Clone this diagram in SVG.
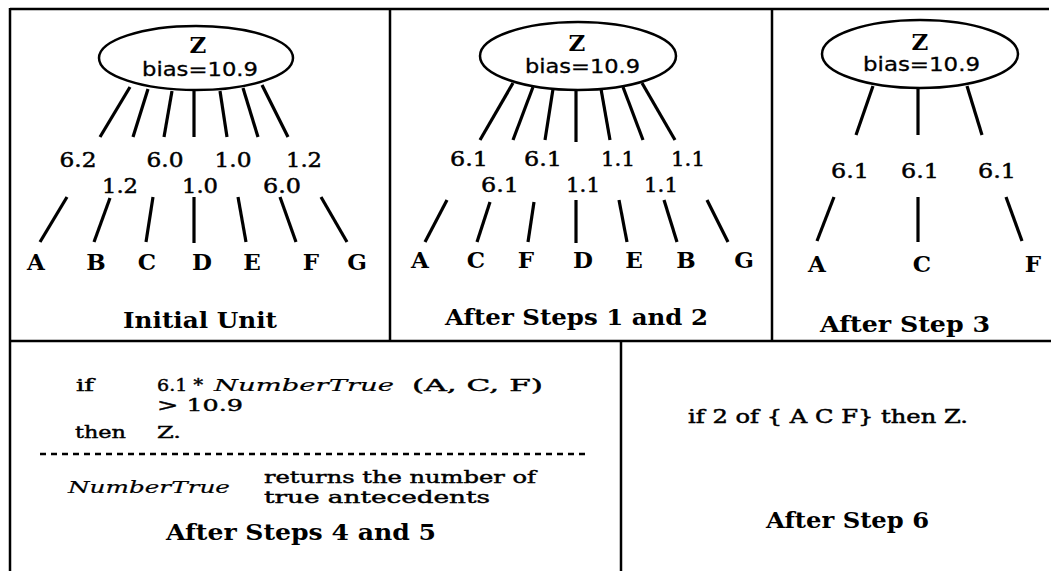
<svg xmlns="http://www.w3.org/2000/svg" width="1051" height="571" viewBox="0 0 1051 571">
<style>
.frame{stroke:#000;stroke-width:2.5;fill:none}
.edge{stroke:#000;stroke-width:3.2;fill:none}
.ell{stroke:#000;stroke-width:2.5;fill:#fff}
.z{font-family:"DejaVu Serif","Liberation Serif",serif;font-weight:bold;font-size:23px;text-anchor:middle}
.bias{font-family:"DejaVu Sans","Liberation Sans",sans-serif;font-size:19px;stroke:#000;stroke-width:0.3}
.w{font-family:"DejaVu Serif","Liberation Serif",serif;font-size:21px;text-anchor:middle;stroke:#000;stroke-width:0.5}
.in{font-family:"DejaVu Serif","Liberation Serif",serif;font-weight:bold;font-size:23px;text-anchor:middle}
.title{font-family:"DejaVu Serif","Liberation Serif",serif;font-weight:bold;font-size:22px}
.rule{font-family:"DejaVu Serif","Liberation Serif",serif;font-size:17.5px;stroke:#000;stroke-width:0.45}
.it{font-family:"DejaVu Serif","Liberation Serif",serif;font-style:italic;font-size:17.5px;stroke:#000;stroke-width:0.2}
.big{font-family:"DejaVu Serif","Liberation Serif",serif;font-size:19px;stroke:#000;stroke-width:0.5}
.dots{stroke:#000;stroke-width:2.5;stroke-dasharray:6 5;fill:none}
</style>
<g id="frames">
<line class="frame" x1="10" y1="9" x2="1049" y2="9"/>
<line class="frame" x1="10" y1="8" x2="10" y2="571"/>
<line class="frame" x1="390" y1="9" x2="390" y2="341"/>
<line class="frame" x1="772" y1="9" x2="772" y2="341"/>
<line class="frame" x1="10" y1="341" x2="1051" y2="341"/>
<line class="frame" x1="621" y1="341" x2="621" y2="571"/>
</g>
<g id="connectors">
<g id="edges-initial">
<line class="edge" x1="130" y1="87" x2="100" y2="137"/>
<line class="edge" x1="148" y1="89" x2="133" y2="137"/>
<line class="edge" x1="172" y1="91" x2="164" y2="137"/>
<line class="edge" x1="194" y1="91" x2="194" y2="137"/>
<line class="edge" x1="220" y1="91" x2="227" y2="137"/>
<line class="edge" x1="243" y1="88" x2="258" y2="137"/>
<line class="edge" x1="262" y1="85" x2="288" y2="137"/>
<line class="edge" x1="67" y1="197" x2="40" y2="242"/>
<line class="edge" x1="110" y1="198" x2="94" y2="242"/>
<line class="edge" x1="153" y1="197" x2="146" y2="242"/>
<line class="edge" x1="194" y1="197" x2="194" y2="243"/>
<line class="edge" x1="238" y1="197" x2="246" y2="242"/>
<line class="edge" x1="280" y1="197" x2="296" y2="242"/>
<line class="edge" x1="321" y1="197" x2="347" y2="242"/>
</g>
<g id="edges-steps12">
<line class="edge" x1="513" y1="83" x2="480" y2="140"/>
<line class="edge" x1="533" y1="87" x2="513" y2="140"/>
<line class="edge" x1="553" y1="89" x2="545" y2="140"/>
<line class="edge" x1="576" y1="90" x2="576" y2="142"/>
<line class="edge" x1="601" y1="89" x2="610" y2="140"/>
<line class="edge" x1="623" y1="87" x2="643" y2="140"/>
<line class="edge" x1="642" y1="83" x2="675" y2="140"/>
<line class="edge" x1="447" y1="200" x2="425" y2="242"/>
<line class="edge" x1="490" y1="202" x2="477" y2="242"/>
<line class="edge" x1="534" y1="202" x2="528" y2="242"/>
<line class="edge" x1="576" y1="200" x2="576" y2="243"/>
<line class="edge" x1="619" y1="200" x2="627" y2="242"/>
<line class="edge" x1="664" y1="200" x2="677" y2="242"/>
<line class="edge" x1="707" y1="200" x2="728" y2="242"/>
</g>
<g id="edges-step3">
<line class="edge" x1="873" y1="86" x2="856" y2="135"/>
<line class="edge" x1="918" y1="88" x2="918" y2="135"/>
<line class="edge" x1="967" y1="86" x2="982" y2="135"/>
<line class="edge" x1="834" y1="197" x2="817" y2="241"/>
<line class="edge" x1="918" y1="197" x2="918" y2="242"/>
<line class="edge" x1="1006" y1="197" x2="1022" y2="241"/>
</g>
<g id="weights-initial">
<text class="w" x="78" y="167" textLength="37" lengthAdjust="spacingAndGlyphs">6.2</text>
<text class="w" x="165" y="167" textLength="37" lengthAdjust="spacingAndGlyphs">6.0</text>
<text class="w" x="233" y="167" textLength="37" lengthAdjust="spacingAndGlyphs">1.0</text>
<text class="w" x="304" y="167" textLength="36" lengthAdjust="spacingAndGlyphs">1.2</text>
<text class="w" x="120" y="193" textLength="36" lengthAdjust="spacingAndGlyphs">1.2</text>
<text class="w" x="200" y="193" textLength="36" lengthAdjust="spacingAndGlyphs">1.0</text>
<text class="w" x="282" y="193" textLength="38" lengthAdjust="spacingAndGlyphs">6.0</text>
</g>
<g id="weights-steps12">
<text class="w" x="469" y="166" textLength="38" lengthAdjust="spacingAndGlyphs">6.1</text>
<text class="w" x="543" y="166" textLength="38" lengthAdjust="spacingAndGlyphs">6.1</text>
<text class="w" x="618" y="166" textLength="34" lengthAdjust="spacingAndGlyphs">1.1</text>
<text class="w" x="688" y="166" textLength="34" lengthAdjust="spacingAndGlyphs">1.1</text>
<text class="w" x="500" y="192" textLength="38" lengthAdjust="spacingAndGlyphs">6.1</text>
<text class="w" x="583" y="192" textLength="34" lengthAdjust="spacingAndGlyphs">1.1</text>
<text class="w" x="661" y="192" textLength="34" lengthAdjust="spacingAndGlyphs">1.1</text>
</g>
<g id="weights-step3">
<text class="w" x="850" y="178" textLength="38" lengthAdjust="spacingAndGlyphs">6.1</text>
<text class="w" x="920" y="178" textLength="38" lengthAdjust="spacingAndGlyphs">6.1</text>
<text class="w" x="997" y="178" textLength="38" lengthAdjust="spacingAndGlyphs">6.1</text>
</g>
</g>
<g id="z-initial">
<ellipse class="ell" cx="196" cy="58" rx="97" ry="32"/>
<text class="z" x="198" y="53">Z</text>
<text class="bias" x="142" y="76" textLength="116" lengthAdjust="spacingAndGlyphs">bias=10.9</text>
</g>
<g id="z-steps12">
<ellipse class="ell" cx="578" cy="56" rx="98" ry="34"/>
<text class="z" x="577" y="51">Z</text>
<text class="bias" x="525" y="73" textLength="115" lengthAdjust="spacingAndGlyphs">bias=10.9</text>
</g>
<g id="z-step3">
<ellipse class="ell" cx="920" cy="54" rx="98" ry="34"/>
<text class="z" x="920" y="50">Z</text>
<text class="bias" x="863" y="71" textLength="117" lengthAdjust="spacingAndGlyphs">bias=10.9</text>
</g>
<g id="inputs-initial">
<text class="in" x="36" y="270">A</text>
<text class="in" x="96" y="270">B</text>
<text class="in" x="147" y="270">C</text>
<text class="in" x="202" y="270">D</text>
<text class="in" x="252" y="270">E</text>
<text class="in" x="311" y="270">F</text>
<text class="in" x="357" y="270">G</text>
</g>
<g id="inputs-steps12">
<text class="in" x="420" y="268">A</text>
<text class="in" x="476" y="268">C</text>
<text class="in" x="526" y="268">F</text>
<text class="in" x="583" y="268">D</text>
<text class="in" x="634" y="268">E</text>
<text class="in" x="686" y="268">B</text>
<text class="in" x="744" y="268">G</text>
</g>
<g id="inputs-step3">
<text class="in" x="817" y="272">A</text>
<text class="in" x="922" y="272">C</text>
<text class="in" x="1033" y="272">F</text>
</g>
<g id="titles">
<text class="title" x="123" y="328" textLength="154" lengthAdjust="spacingAndGlyphs">Initial Unit</text>
<text class="title" x="445" y="325" textLength="263" lengthAdjust="spacingAndGlyphs">After Steps 1 and 2</text>
<text class="title" x="820" y="332" textLength="170" lengthAdjust="spacingAndGlyphs">After Step 3</text>
<text class="title" x="166" y="540" textLength="270" lengthAdjust="spacingAndGlyphs">After Steps 4 and 5</text>
<text class="title" x="766" y="528" textLength="163" lengthAdjust="spacingAndGlyphs">After Step 6</text>
</g>
<g id="rule-steps45">
<text class="rule" x="76" y="391" textLength="18" lengthAdjust="spacingAndGlyphs">if</text>
<text class="rule" x="157" y="391" textLength="46" lengthAdjust="spacingAndGlyphs">6.1 *</text>
<text class="it" x="214" y="391" textLength="180" lengthAdjust="spacingAndGlyphs">NumberTrue</text>
<text class="rule" x="412" y="391" textLength="131" lengthAdjust="spacingAndGlyphs">(A, C, F)</text>
<text class="rule" x="157" y="411" textLength="86" lengthAdjust="spacingAndGlyphs">&gt; 10.9</text>
<text class="rule" x="75" y="438" textLength="51" lengthAdjust="spacingAndGlyphs">then</text>
<text class="rule" x="157" y="438" textLength="24" lengthAdjust="spacingAndGlyphs">Z.</text>
<line class="dots" x1="40" y1="454" x2="590" y2="454"/>
<text class="it" x="68" y="493" textLength="162" lengthAdjust="spacingAndGlyphs">NumberTrue</text>
<text class="rule" x="264" y="483" textLength="272" lengthAdjust="spacingAndGlyphs">returns the number of</text>
<text class="rule" x="264" y="503" textLength="226" lengthAdjust="spacingAndGlyphs">true antecedents</text>
</g>
<g id="rule-step6">
<text class="big" x="688" y="423" textLength="280" lengthAdjust="spacingAndGlyphs">if 2 of { A C F} then Z.</text>
</g>
</svg>
